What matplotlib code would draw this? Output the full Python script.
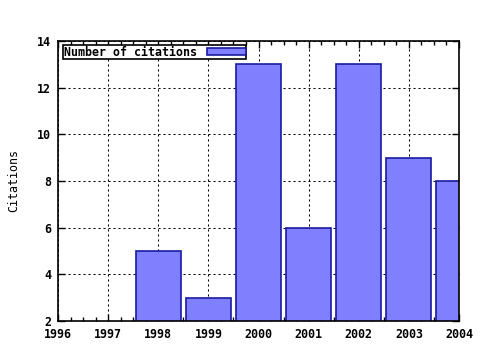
import numpy as np
import matplotlib.pyplot as plt
from matplotlib.ticker import MultipleLocator

plt.rcParams.update(
    {
        "font.family": "DejaVu Sans Mono",
        "font.weight": "bold",
        "font.size": 8.4,
    }
)

# --- Data ---
years = [1998, 1999, 2000, 2001, 2002, 2003, 2004]
citations = [5, 3, 13, 6, 13, 9, 8]
year_ticks = [1996, 1997, 1998, 1999, 2000, 2001, 2002, 2003, 2004]

fig = plt.figure(figsize=(4.8, 3.5), dpi=100)
ax = fig.add_axes([58 / 480, 29 / 350, 401 / 480, 280 / 350])

ax.bar(
    years,
    citations,
    width=0.9,
    color="#8080ff",
    edgecolor="#1a1aa0",
    linewidth=1.2,
    label="Number of citations",
    zorder=2,
)

ax.set_xlim(1996, 2004)
ax.set_ylim(2, 14)
ax.set_xticks(year_ticks)
ax.set_xticklabels([str(y) for y in year_ticks])
ax.xaxis.set_minor_locator(MultipleLocator(0.25))
ax.yaxis.set_major_locator(MultipleLocator(2))

ax.tick_params(axis="both", which="both", direction="in", top=True, right=True,
               width=1, color="black")
ax.tick_params(axis="both", which="major", length=5)
ax.tick_params(axis="x", which="minor", length=3)
ax.tick_params(axis="both", pad=5)

ax.grid(True, which="major", linestyle=(0, (2, 2.8)), color="black", linewidth=0.75, zorder=1)
ax.set_axisbelow(True)
for s in ax.spines.values():
    s.set_linewidth(1.2)
    s.set_zorder(3)

ax.set_ylabel("Citations", labelpad=12)

leg = ax.legend(
    loc="upper left",
    bbox_to_anchor=(5 / 401, 1 - 4 / 280),
    markerfirst=False,
    fancybox=False,
    framealpha=1,
    edgecolor="black",
    borderpad=0.05,
    borderaxespad=0.0,
    handlelength=3.3,
    handleheight=0.55,
    handletextpad=0.9,
)
leg.get_frame().set_linewidth(1.2)

plt.savefig("out.png", dpi=100)
